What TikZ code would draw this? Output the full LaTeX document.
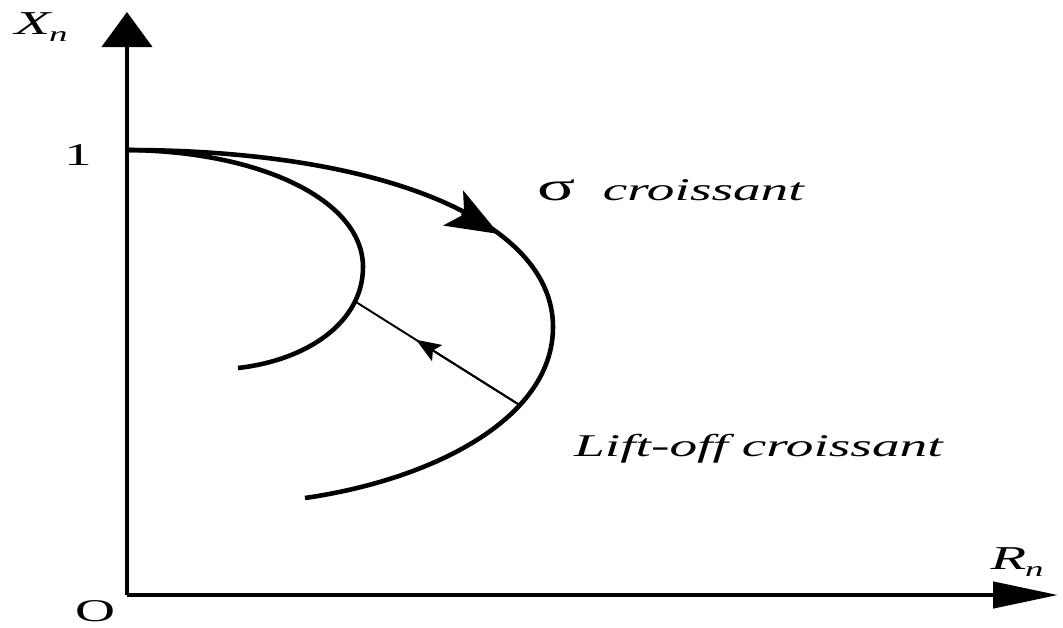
\documentclass[tikz,border=0pt]{standalone}
\usepackage{fontspec}
\setmainfont{Liberation Serif}
\usepackage{tikz}
\usetikzlibrary{arrows.meta, calc}

\begin{document}
\begin{tikzpicture}[
  x=0.02cm, y=-0.02cm,
  axis/.style={line width=2.6pt},
  curve/.style={line width=2.6pt},
  lbl/.style={font=\fontsize{18}{21}\selectfont, inner sep=0pt, xscale=1.75, transform shape},
  sub/.style={font=\fontsize{19}{22}\selectfont, inner sep=0pt, xscale=1.75, transform shape}
]
\useasboundingbox (0,0) rectangle (1063,627);
% axes
\coordinate (orig) at (127,595);
\coordinate (ytip) at (127,12);
\coordinate (xtip) at (1058,595);
\coordinate (one)  at (127,150);
\draw[axis, -{Triangle[length=0.7cm, width=1cm]}] (orig) -- (ytip);
\draw[axis, -{Triangle[length=1.3cm, width=0.52cm]}] (orig) -- (xtip);
\node[sub] (xn) at (41,27) {\textit{X\kern-0.02em\raisebox{-0.4ex}{\fontsize{12}{13}\selectfont n}}};
\node[sub] (rn) at (1017,562) {\textit{R\kern-0.02em\raisebox{-0.4ex}{\fontsize{12}{13}\selectfont n}}};
\node[lbl] (un) at (78,155) {1};
\node[lbl] (zero) at (95,611) {O};
% curves
\coordinate (outR) at (553,327);
\coordinate (outE) at (305,498);
\coordinate (inR)  at (363,267);
\coordinate (inE)  at (238,368);
\coordinate (tipA) at (499,234);
\coordinate (tipB) at (462,213);
\draw[curve] (one) .. controls (380,150) and (553,220) .. (outR)
                   .. controls (553,420) and (430,480) .. (outE);
\draw[curve, -{Stealth[length=1.05cm, width=0.8cm, inset=0.25cm]}] (tipB) -- (tipA);
\draw[curve] (one) .. controls (260,151) and (363,200) .. (inR)
                   .. controls (363,322) and (308,360) .. (inE);
% lift-off
\coordinate (lin)  at (356,302);
\coordinate (lout) at (518,404);
\draw[line width=1.1pt] (lout) -- (lin);
\draw[line width=1.1pt, -{Stealth[length=0.5cm, width=0.38cm, inset=0.1cm]}] (lout) -- ($(lout)!0.63!(lin)$);
\node[lbl] (sig) at (671,190) {{\fontsize{23}{24}\selectfont σ}\enspace\textit{croissant}};
\node[lbl] (lift) at (759,449) {\textit{Lift-off croissant}};
\end{tikzpicture}
\end{document}
